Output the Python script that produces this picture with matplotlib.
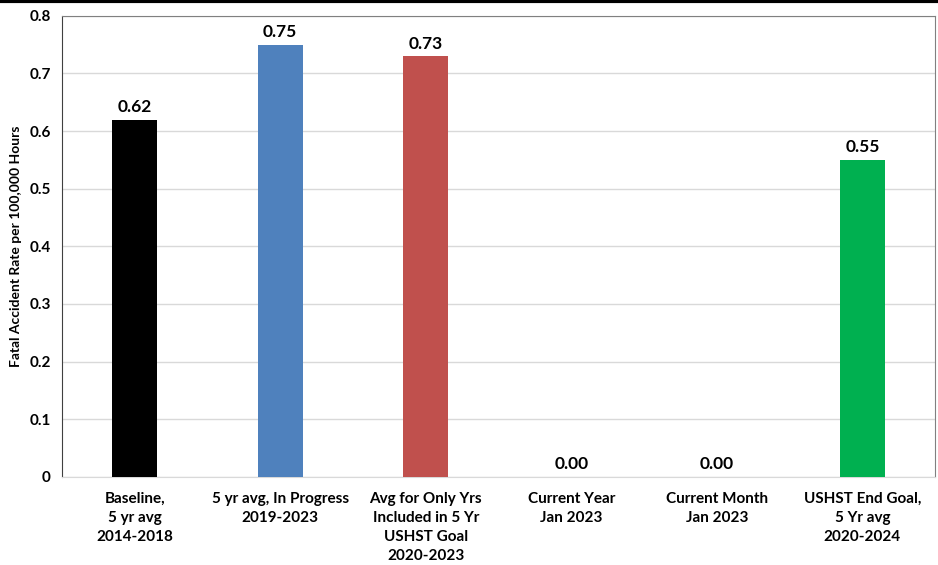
import numpy as np
import matplotlib
matplotlib.use("Agg")
from matplotlib import pyplot as plt
from matplotlib.lines import Line2D

plt.rcParams['font.family'] = ['Lato', 'DejaVu Sans']
plt.rcParams['font.weight'] = 'bold'

categories = ["Baseline,\n5 yr avg\n2014-2018",
              "5 yr avg, In Progress\n2019-2023",
              "Avg for Only Yrs\nIncluded in 5 Yr\nUSHST Goal\n2020-2023",
              "Current Year\nJan 2023",
              "Current Month\nJan 2023",
              "USHST End Goal,\n5 Yr avg\n2020-2024"]
values = [0.62, 0.75, 0.73, 0.00, 0.00, 0.55]
bar_colors = ["#000000", "#4F81BD", "#C0504D", "#9BBB59", "#8064A2", "#00B050"]

fig = plt.figure(figsize=(9.38, 5.65), dpi=100)
ax = fig.add_axes([0.066, 0.156, 0.931, 0.816])

x = np.arange(len(categories))
ax.bar(x, values, width=0.31, color=bar_colors, zorder=3)
for xi, v in zip(x, values):
    ax.text(xi, v + 0.008, f"{v:.2f}", ha='center', va='bottom',
            fontsize=12.5, fontweight='bold')

ax.set_xlim(-0.5, len(categories) - 0.5)
ax.set_ylim(0, 0.8)
ax.set_yticks(np.arange(0, 0.81, 0.1))
ax.set_yticklabels(["0"] + [f"{t:.1f}" for t in np.arange(0.1, 0.81, 0.1)])
ax.set_xticks(x)
ax.set_xticklabels(categories, fontsize=11, fontweight='bold', linespacing=1.45)
ax.tick_params(axis='y', labelsize=11, length=0, pad=8)
ax.tick_params(axis='x', length=0, pad=11)
ax.grid(axis='y', color='#D9D9D9', linewidth=1, zorder=0)
ax.set_ylabel("Fatal Accident Rate per 100,000 Hours", fontsize=10, fontweight='bold', labelpad=5)

ax.spines['left'].set_color('#404040')
ax.spines['top'].set_color('#808080')
ax.spines['right'].set_color('#808080')
ax.spines['bottom'].set_color('#D9D9D9')

fig.add_artist(Line2D([0, 1], [0.998, 0.998], color='black', linewidth=3, transform=fig.transFigure))

fig.savefig("out.png", dpi=100)
